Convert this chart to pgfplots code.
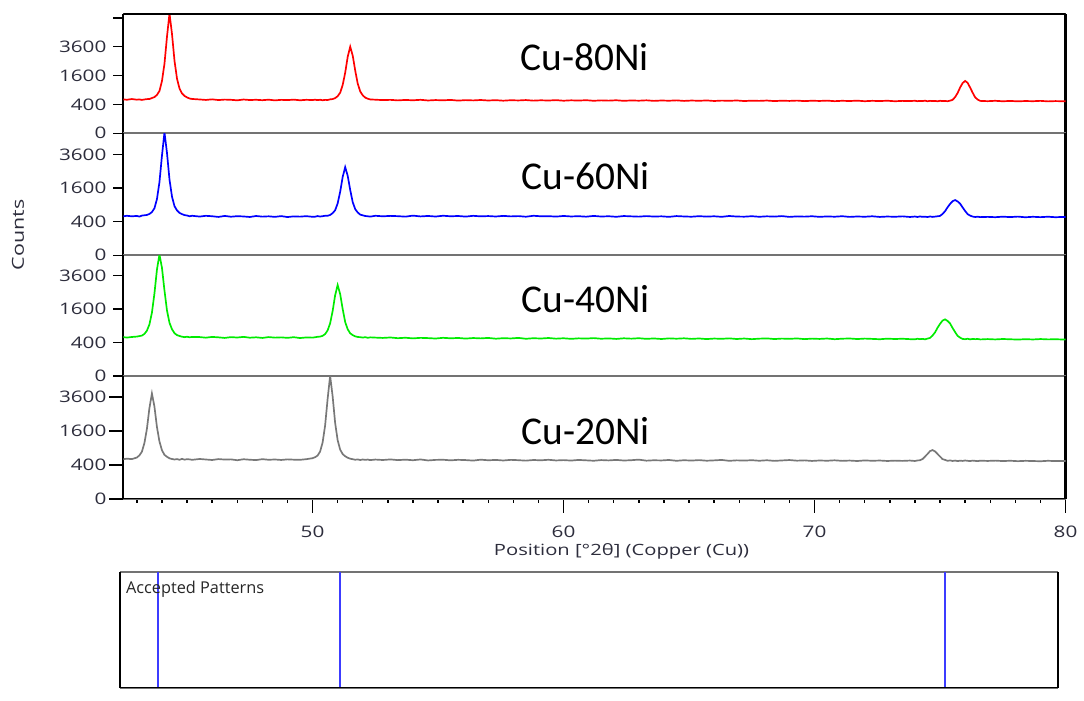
\documentclass[border=0pt]{standalone}
\usepackage{pgfplots}
\pgfplotsset{compat=1.18}
\usepackage{pgfplotstable}
\usepackage{fontspec}
\setmainfont[FakeStretch=1.3]{Open Sans}
\newfontfamily\plainos{Open Sans}
\newfontfamily\calibri{Carlito}
\definecolor{xred}{RGB}{255,0,0}
\definecolor{xblue}{RGB}{0,0,255}
\definecolor{xgreen}{RGB}{0,235,0}
\definecolor{xgray}{RGB}{120,120,120}
\definecolor{tickc}{RGB}{45,45,60}

\pgfplotstableread{
x r b g k
42.4 556 531 549 538
42.6 539 552 528 561
42.8 562 537 545 548
43.0 541 548 556 593
43.1 550 529 570 655
43.2 533 557 584 770
43.3 548 566 632 1075
43.4 560 575 735 1695
43.5 562 604 948 2850
43.6 596 660 1430 3845
43.7 628 780 2420 2955
43.8 705 1115 4020 1790
43.9 858 1890 5245 1140
44.0 1310 3515 4165 820
44.1 2320 5345 2605 672
44.2 4475 3710 1530 614
44.3 6895 2030 1010 570
44.4 4730 1215 782 551
44.5 2515 851 655 538
44.6 1428 712 598 549
44.7 958 635 573 530
44.8 760 598 552 556
44.9 668 571 540 533
45.0 617 560 551 547
45.1 579 538 537 541
45.2 565 552 546 529
45.5 548 530 542 552
45.75 533 551 526 538
46.0 552 539 547 524
46.25 529 520 535 549
46.5 544 548 519 536
46.75 537 526 541 541
47.0 521 541 530 518
47.25 546 533 548 545
47.5 530 519 525 531
47.75 538 546 536 522
48.0 525 528 519 547
48.25 541 537 542 530
48.5 519 522 527 538
48.75 536 543 534 525
49.0 528 517 521 541
49.25 543 535 539 533
49.5 522 528 516 529
49.75 537 541 532 546
50.0 529 524 527 574
50.1 541 526 538 602
50.2 527 544 549 650
50.3 538 531 556 775
50.4 523 540 577 1098
50.5 536 552 628 1860
50.6 530 553 743 3455
50.7 552 575 990 5250
50.8 561 628 1505 3640
50.9 592 718 2325 1995
51.0 660 953 2945 1192
51.1 790 1425 2390 841
51.2 1118 2170 1602 695
51.3 1757 2750 1038 630
51.4 2805 2235 781 587
51.5 3600 1512 652 560
51.6 2892 998 598 546
51.7 1882 752 562 531
51.8 1180 648 545 540
51.9 838 584 539 524
52.0 690 565 528 538
52.1 609 545 541 527
52.2 573 538 522 536
52.3 549 528 535 521
52.5 541 552 528 536
52.8 528 537 519 524
53.1 536 549 531 540
53.4 519 541 512 521
53.7 533 528 524 533
54.0 522 556 507 518
54.3 537 534 521 539
54.6 516 547 514 512
54.9 529 531 503 527
55.2 521 553 522 531
55.5 534 538 509 515
55.8 512 546 518 529
56.1 527 529 501 522
56.4 518 551 516 508
56.7 531 536 507 533
57.0 515 544 519 517
57.3 526 532 498 526
57.6 509 549 512 511
57.9 524 535 505 528
58.2 517 543 520 519
58.5 529 526 496 507
58.8 511 552 511 524
59.1 522 538 503 516
59.4 514 541 517 530
59.7 527 529 499 512
60.0 508 547 510 521
60.3 521 533 494 509
60.6 513 540 508 526
60.9 525 527 501 515
61.2 506 548 514 504
61.5 519 531 497 522
61.8 511 539 506 513
62.1 523 524 492 527
62.4 504 545 509 510
62.7 517 536 499 519
63.0 509 528 511 534
63.3 521 543 494 506
63.6 503 530 505 517
63.9 515 537 490 512
64.2 508 522 507 525
64.5 519 544 498 503
64.8 502 533 509 518
65.1 514 526 493 509
65.4 506 541 504 521
65.7 517 529 488 505
66.0 500 538 502 514
66.3 512 523 495 526
66.6 505 546 507 502
66.9 516 531 490 515
67.2 498 527 503 508
67.5 510 540 486 519
67.8 503 524 499 504
68.1 514 537 506 517
68.4 497 529 489 501
68.7 509 543 501 512
69.0 502 521 494 523
69.3 512 535 505 506
69.6 496 528 487 514
69.9 508 539 500 499
70.2 501 522 492 511
70.5 511 534 503 504
70.8 494 526 485 516
71.1 506 540 498 501
71.4 499 521 504 509
71.7 510 532 489 497
72.0 493 525 501 513
72.3 505 538 493 503
72.6 498 520 484 510
72.9 508 531 499 498
73.2 492 524 490 507
73.5 503 536 497 500
73.8 497 519 486 509
74.0 507 531 482 498
74.1 494 519 497 512
74.2 503 534 486 517
74.3 498 522 494 549
74.4 509 528 481 620
74.5 492 517 501 698
74.6 505 533 519 790
74.7 496 521 585 826
74.8 503 529 680 782
74.9 491 538 831 699
75.0 506 548 972 620
75.1 497 604 1095 548
75.2 501 688 1145 527
75.3 493 815 1082 502
75.4 510 934 983 514
75.5 536 1035 822 498
75.6 627 1078 690 509
75.7 778 1026 576 495
75.8 1005 942 527 507
75.9 1210 808 492 499
76.0 1315 694 485 511
76.1 1218 598 496 502
76.2 998 556 480 496
76.3 787 530 493 508
76.4 618 518 486 501
76.5 545 527 491 494
76.6 503 515 479 506
76.9 494 522 488 499
77.2 506 513 479 507
77.5 491 527 490 496
77.8 502 516 483 504
78.1 489 529 475 493
78.4 499 511 486 502
78.7 493 524 478 497
79.0 504 514 489 491
79.3 488 526 480 503
79.6 497 512 484 495
79.9 491 521 477 500
80.2 500 515 486 494
}\xrd

\pgfplotsset{
  panel/.style={
    scale only axis, width=473pt,
    xmin=42.46, xmax=80, ymin=0,
    xtick=\empty,
    ytick={0,20,40,60,80}, yticklabels={0,400,1600,3600,},
    ytick pos=left, tick align=outside, major tick length=5pt,
    tick style={black, line width=0.7pt},
    separate axis lines,
    x axis line style={draw=black!55, line width=0.8pt},
    y axis line style={draw=black, line width=1.1pt},
    y filter/.expression={sqrt(y)},
    yticklabel style={font=\fontsize{8}{9}\selectfont, text=tickc},
    every axis plot/.append style={line width=0.85pt, mark=none},
  }
}

\begin{document}
\begin{tikzpicture}
\path (0pt,0pt) rectangle (542pt,-352pt);

\begin{axis}[panel, at={(62pt,-7pt)}, anchor=north west, height=60pt, ymax=82.7]
\addplot[xred] table[x=x,y=r]{\xrd};
\draw[black, line width=1.1pt] (rel axis cs:0,1) -- (rel axis cs:1,1);
\end{axis}

\begin{axis}[panel, at={(62pt,-67pt)}, anchor=north west, height=61.35pt, ymax=72.6]
\addplot[xblue] table[x=x,y=b]{\xrd};
\end{axis}

\begin{axis}[panel, at={(62pt,-128.35pt)}, anchor=north west, height=60.8pt, ymax=72]
\addplot[xgreen] table[x=x,y=g]{\xrd};
\end{axis}

\begin{axis}[panel, at={(62pt,-189.15pt)}, anchor=north west, height=61.7pt, ymax=72.2,
  xtick={50,60,70,80}, xticklabels={50,60,70,80},
  minor xtick={43,44,45,46,47,48,49,51,52,53,54,55,56,57,58,59,61,62,63,64,65,66,67,68,69,71,72,73,74,75,76,77,78,79},
  xtick pos=bottom, major tick length=7pt, minor tick length=2pt,
  yticklabel style={xshift=2pt},
  xticklabel style={font=\fontsize{8}{9}\selectfont, text=tickc, yshift=-3pt}]
\addplot[xgray] table[x=x,y=k]{\xrd};
\draw[black, line width=1.1pt] (rel axis cs:0,0) -- (rel axis cs:1,0);
\end{axis}

\node[anchor=west, inner sep=0pt, font=\calibri\fontsize{19.8}{22}\selectfont] at (261.5pt,-28.75pt) {Cu-80Ni};
\node[anchor=west, inner sep=0pt, font=\calibri\fontsize{19.8}{22}\selectfont] at (262pt,-88.75pt) {Cu-60Ni};
\node[anchor=west, inner sep=0pt, font=\calibri\fontsize{19.8}{22}\selectfont] at (262pt,-150.25pt) {Cu-40Ni};
\node[anchor=west, inner sep=0pt, font=\calibri\fontsize{19.8}{22}\selectfont] at (262pt,-217pt) {Cu-20Ni};

\node[rotate=90, inner sep=0pt, font=\fontsize{8.3}{9}\selectfont, text=tickc] at (9pt,-118pt) {Counts};
\node[inner sep=0pt, font=\fontsize{7.8}{8}\selectfont, text=tickc] at (312.5pt,-277pt) {Position [°2θ] (Copper (Cu))};

\begin{axis}[at={(60.35pt,-287.75pt)}, anchor=north west, scale only axis,
  width=471.65pt, height=58.1pt, xmin=42.33, xmax=79.76, ymin=0, ymax=1,
  xtick=\empty, ytick=\empty, separate axis lines,
  x axis line style={draw=black!55, line width=0.8pt},
  y axis line style={draw=black, line width=1.1pt}]
\addplot[ycomb, mark=none, color={rgb,255:red,60;green,60;blue,255}, line width=0.9pt] coordinates {(43.85,1) (51.12,1) (75.24,1)};
\draw[black, line width=1.1pt] (rel axis cs:0,0) -- (rel axis cs:1,0);
\node[anchor=north west, inner sep=0pt, font=\plainos\fontsize{8.2}{9}\selectfont, text=black!85] at (rel axis cs:0.006,0.93) {Accepted Patterns};
\end{axis}
\end{tikzpicture}
\end{document}
